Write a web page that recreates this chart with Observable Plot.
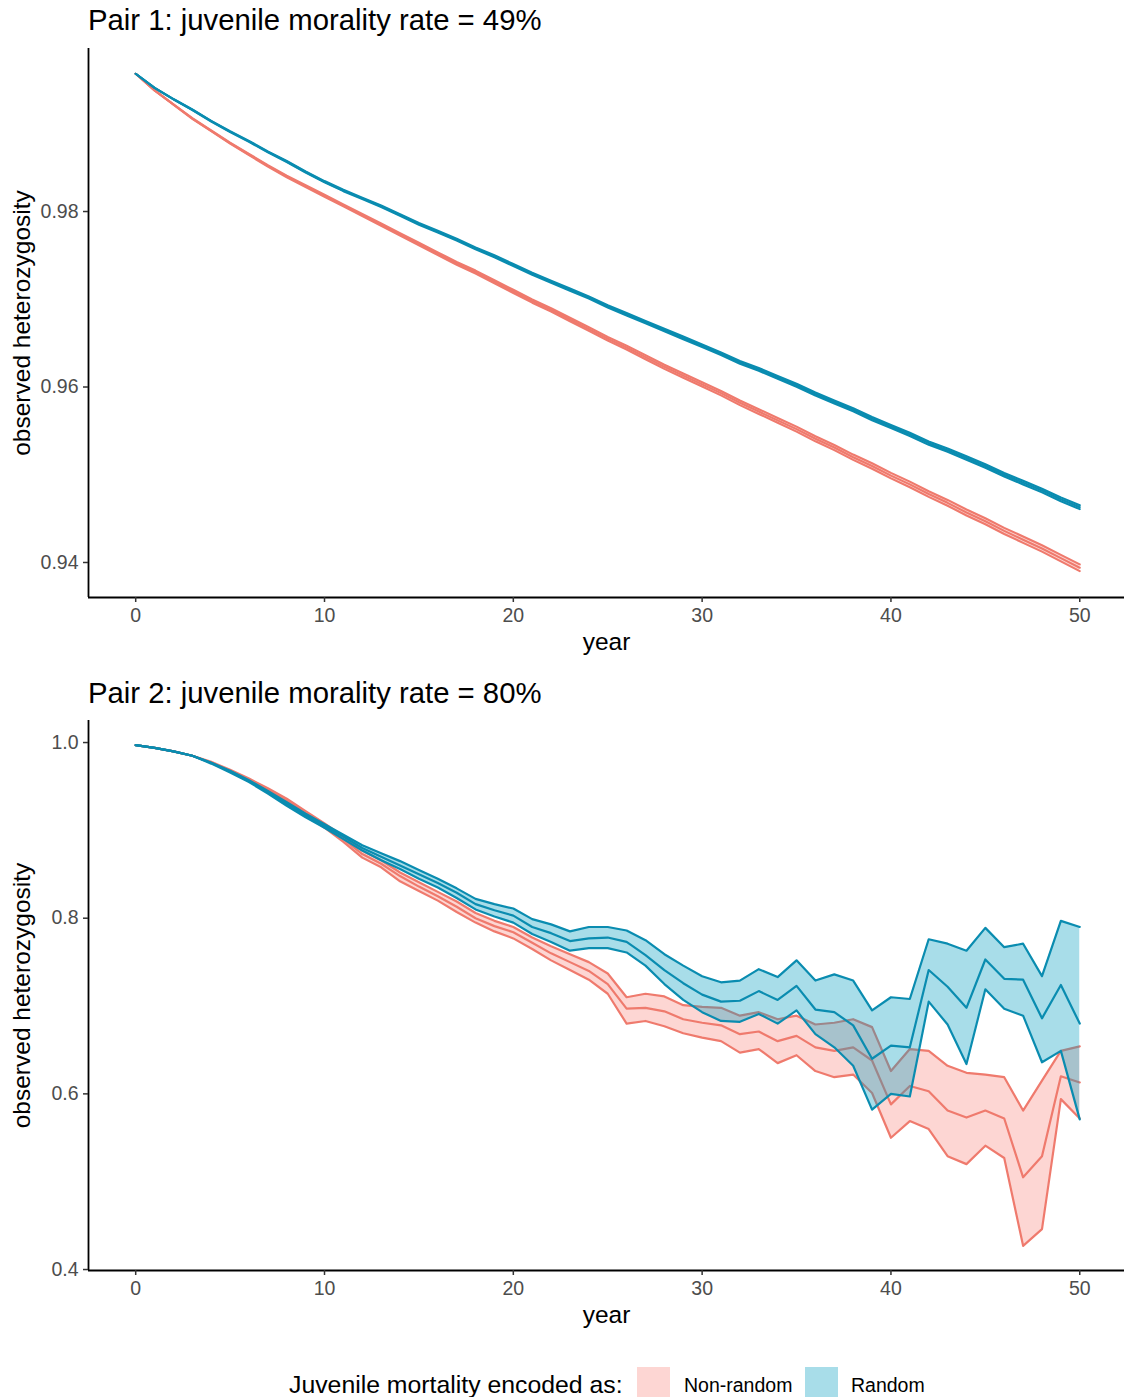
<!DOCTYPE html>
<html>
<head>
<meta charset="utf-8">
<script src="https://cdn.jsdelivr.net/npm/d3@7"></script>
<script src="https://cdn.jsdelivr.net/npm/@observablehq/plot@0.6"></script>
<style>
  html, body { margin: 0; padding: 0; width: 1124px; height: 1397px; overflow: hidden; background: white; }
  #root { position: relative; width: 1124px; height: 1397px; font-family: "Liberation Sans", Arial, sans-serif; }
  .title { position: absolute; left: 88px; font-size: 29.3px; color: #000; white-space: nowrap; line-height: 40px; }
  .panel { position: absolute; left: 0; }
  #legend { position: absolute; left: 0; top: 1367px; width: 1124px; height: 34px; }
  #legend span { position: absolute; white-space: nowrap; }
  .lt { font-size: 24.8px; line-height: 34px; top: 1px; }
  .ll { font-size: 19.5px; line-height: 34px; top: 1px; }
  .sw { width: 33px; height: 34px; top: 0; }
</style>
</head>
<body>
<div id="root">
  <div class="title" style="top:0px">Pair 1: juvenile morality rate = 49%</div>
  <div class="panel" id="p1" style="top:40px"></div>
  <div class="title" style="top:673px">Pair 2: juvenile morality rate = 80%</div>
  <div class="panel" id="p2" style="top:712px"></div>
  <div id="legend"></div>
</div>
<script>
// ---------- data ----------
const years = [0,1,2,3,4,5,6,7,8,9,10,11,12,13,14,15,16,17,18,19,20,21,22,23,24,25,26,27,28,29,30,31,32,33,34,35,36,37,38,39,40,41,42,43,44,45,46,47,48,49,50];
const groups = ["Non-random", "Random"];
const legendTitle = "Juvenile mortality encoded as:";
const xTicks = [0, 10, 20, 30, 40, 50];
const p1YTicks = [0.94, 0.96, 0.98];
const p2YTicks = [0.4, 0.6, 0.8, 1.0];

// Pair 1 (49%): mean and half-width of ribbon
const p1RandomMean = [0.9957,0.9941,0.9928,0.9916,0.9903,0.9891,0.9880,0.9868,0.9857,0.9845,0.9834,0.9824,0.9815,0.9806,0.9796,0.9786,0.9777,0.9768,0.9758,0.9749,0.9739,0.9729,0.9720,0.9711,0.9702,0.9692,0.9683,0.9674,0.9665,0.9656,0.9647,0.9638,0.9628,0.9620,0.9611,0.9602,0.9592,0.9583,0.9574,0.9564,0.9555,0.9546,0.9536,0.9528,0.9519,0.9510,0.9500,0.9491,0.9482,0.9472,0.9463];
const p1RandomHalf = [0,0,0.00002,0.00003,0.00004,0.00005,0.00005,0.00006,0.00006,0.00007,0.00007,0.00008,0.00008,0.00009,0.00009,0.0001,0.0001,0.0001,0.00011,0.00011,0.00012,0.00012,0.00012,0.00013,0.00013,0.00013,0.00014,0.00014,0.00014,0.00015,0.00015,0.00015,0.00016,0.00016,0.00016,0.00017,0.00017,0.00017,0.00018,0.00018,0.00018,0.00019,0.00019,0.00019,0.0002,0.0002,0.0002,0.00021,0.00021,0.00022,0.00022];
const p1NonRandomMean = [0.9957,0.9938,0.9922,0.9906,0.9892,0.9878,0.9865,0.9852,0.9840,0.9829,0.9818,0.9807,0.9796,0.9785,0.9774,0.9763,0.9752,0.9741,0.9731,0.9720,0.9709,0.9698,0.9688,0.9677,0.9666,0.9655,0.9645,0.9634,0.9623,0.9613,0.9603,0.9593,0.9582,0.9572,0.9562,0.9552,0.9541,0.9531,0.9520,0.9510,0.9499,0.9489,0.9478,0.9468,0.9457,0.9447,0.9436,0.9426,0.9416,0.9405,0.9394];
const p1NonRandomHalf = [0,0,0.00002,0.00004,0.00005,0.00006,0.00007,0.00008,0.00009,0.0001,0.00011,0.00012,0.00012,0.00013,0.00014,0.00015,0.00015,0.00016,0.00017,0.00017,0.00018,0.00019,0.00019,0.0002,0.00021,0.00021,0.00022,0.00023,0.00023,0.00024,0.00025,0.00025,0.00026,0.00027,0.00027,0.00028,0.00029,0.00029,0.0003,0.00031,0.00031,0.00032,0.00032,0.00033,0.00034,0.00034,0.00035,0.00036,0.00036,0.00037,0.00038];

// Pair 2 (80%): lower, mean, upper
const p2RandomHi  = [.997,.994,.990,.985,.977,.968,.957,.945,.932,.919,.907,.895,.883,.874,.865,.855,.845,.834,.822,.816,.811,.799,.793,.785,.790,.790,.786,.775,.759,.746,.734,.727,.729,.742,.733,.752,.729,.736,.729,.695,.710,.708,.776,.771,.763,.789,.767,.771,.734,.797,.790];
const p2RandomMid = [.997,.994,.990,.985,.977,.967,.956,.944,.930,.917,.905,.893,.880,.870,.860,.850,.840,.829,.816,.809,.803,.790,.783,.774,.777,.778,.773,.758,.741,.726,.713,.705,.706,.717,.707,.723,.696,.693,.678,.640,.655,.653,.741,.722,.698,.753,.731,.730,.686,.724,.680];
const p2RandomLo  = [.997,.994,.990,.985,.976,.966,.955,.942,.928,.915,.903,.890,.877,.866,.856,.845,.835,.823,.810,.802,.795,.782,.773,.763,.766,.766,.761,.746,.725,.707,.693,.683,.682,.691,.680,.695,.668,.653,.632,.582,.600,.597,.705,.679,.634,.719,.697,.689,.636,.649,.571];
const p2NonRandomHi  = [.997,.994,.990,.985,.978,.969,.959,.948,.936,.922,.908,.893,.877,.866,.852,.841,.830,.819,.806,.797,.790,.778,.768,.759,.750,.737,.710,.714,.711,.701,.699,.698,.689,.693,.685,.689,.679,.681,.685,.676,.626,.651,.649,.632,.624,.622,.619,.581,.615,.649,.654];
const p2NonRandomMid = [.997,.994,.990,.985,.977,.968,.958,.947,.934,.920,.906,.890,.873,.862,.848,.836,.825,.813,.800,.791,.784,.772,.760,.750,.740,.725,.697,.698,.694,.685,.681,.678,.668,.671,.660,.666,.653,.649,.653,.638,.588,.609,.603,.581,.573,.581,.572,.505,.529,.620,.613];
const p2NonRandomLo  = [.997,.994,.990,.985,.977,.967,.957,.945,.932,.918,.903,.887,.869,.858,.842,.831,.820,.807,.795,.785,.777,.765,.752,.741,.730,.714,.680,.683,.677,.669,.664,.660,.647,.651,.635,.644,.626,.619,.622,.601,.550,.569,.560,.529,.520,.541,.527,.427,.446,.594,.572];

// ---------- styles ----------
const lineColor = {"Non-random": "#EF7A6D", "Random": "#0A8CB0"};
const fillColor = {"Non-random": "#F8766D", "Random": "#069EC0"};
const fillOpacity = {"Non-random": 0.3, "Random": 0.35};
const FONT = "Liberation Sans, Arial, sans-serif";

function rowsFromMean(mean, half) {
  return years.map((yr, i) => ({year: yr, lo: mean[i] - half[i], mid: mean[i], hi: mean[i] + half[i]}));
}
function rowsFromBounds(lo, mid, hi) {
  return years.map((yr, i) => ({year: yr, lo: lo[i], mid: mid[i], hi: hi[i]}));
}

function groupMarks(rows, g, sw) {
  return [
    Plot.areaY(rows, {x: "year", y1: "lo", y2: "hi", fill: fillColor[g], fillOpacity: fillOpacity[g]}),
    Plot.lineY(rows, {x: "year", y: "lo", stroke: lineColor[g], strokeWidth: sw}),
    Plot.lineY(rows, {x: "year", y: "mid", stroke: lineColor[g], strokeWidth: sw}),
    Plot.lineY(rows, {x: "year", y: "hi", stroke: lineColor[g], strokeWidth: sw})
  ];
}

function panel({nonRandom, random, yDomain, yTicks, yFormat, height, marginTop, marginBottom, sw}) {
  const xDomain = [-2.5, 52.37];
  return Plot.plot({
    width: 1124,
    height,
    marginLeft: 88,
    marginRight: 0,
    marginTop,
    marginBottom,
    style: {fontFamily: FONT, background: "white", overflow: "visible"},
    x: {domain: xDomain, label: null},
    y: {domain: yDomain, label: null},
    marks: [
      ...groupMarks(nonRandom, "Non-random", sw),
      ...groupMarks(random, "Random", sw),
      Plot.ruleX([xDomain[0]], {stroke: "black", strokeWidth: 1.8}),
      Plot.ruleY([yDomain[0]], {stroke: "black", strokeWidth: 1.8}),
      Plot.axisX({ticks: xTicks, tickFormat: d => String(d), tickSize: 5, tickPadding: 6, fontSize: 19.5, fill: "#4D4D4D", stroke: "#333", strokeWidth: 1.5, label: null}),
      Plot.axisY({ticks: yTicks, tickFormat: yFormat, tickSize: 5, tickPadding: 5, fontSize: 19.5, fill: "#4D4D4D", stroke: "#333", strokeWidth: 1.5, label: null}),
      Plot.text(["year"], {text: d => d, frameAnchor: "bottom", dy: 52, fontSize: 24.5, fill: "black", textAnchor: "middle"}),
      Plot.text(["observed heterozygosity"], {text: d => d, frameAnchor: "left", dx: -66, rotate: -90, fontSize: 24.5, fill: "black", textAnchor: "middle"})
    ]
  });
}

document.getElementById("p1").append(panel({
  nonRandom: rowsFromMean(p1NonRandomMean, p1NonRandomHalf),
  random: rowsFromMean(p1RandomMean, p1RandomHalf),
  yDomain: [0.93601, 0.99858],
  yTicks: p1YTicks,
  yFormat: d3.format(".2f"),
  height: 625, marginTop: 8, marginBottom: 68, sw: 2.1
}));

document.getElementById("p2").append(panel({
  nonRandom: rowsFromBounds(p2NonRandomLo, p2NonRandomMid, p2NonRandomHi),
  random: rowsFromBounds(p2RandomLo, p2RandomMid, p2RandomHi),
  yDomain: [0.3989, 1.0251],
  yTicks: p2YTicks,
  yFormat: d3.format(".1f"),
  height: 628, marginTop: 8, marginBottom: 70, sw: 2.2
}));

// ---------- legend ----------
const legend = document.getElementById("legend");
function addSpan(cls, left, text, style) {
  const s = document.createElement("span");
  s.className = cls;
  s.style.left = left + "px";
  if (text) s.textContent = text;
  if (style) Object.assign(s.style, style);
  legend.append(s);
}
addSpan("lt", 289, legendTitle);
const hex = c => [1,3,5].map(i => parseInt(c.slice(i, i + 2), 16));
function blend(c, a) { const [r,g,b] = hex(c); return `rgb(${[r,g,b].map(v => Math.round(255 - a * (255 - v))).join(",")})`; }
addSpan("sw", 637, "", {background: blend(fillColor[groups[0]], fillOpacity[groups[0]])});
addSpan("ll", 684, groups[0]);
addSpan("sw", 805, "", {background: blend(fillColor[groups[1]], fillOpacity[groups[1]])});
addSpan("ll", 851, groups[1]);
</script>
</body>
</html>
